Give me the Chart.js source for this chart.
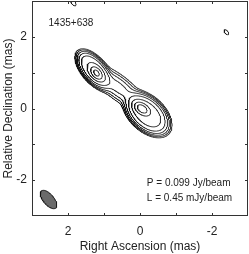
<!DOCTYPE html>
<html>
<head>
<meta charset="utf-8">
<script src="https://cdn.jsdelivr.net/npm/chart.js@4.4.1/dist/chart.umd.min.js"></script>
<style>
  html, body { margin: 0; padding: 0; background: #fff; }
  #wrap { width: 249px; height: 254px; }
</style>
</head>
<body>
<div id="wrap"><canvas id="c" width="249" height="254"></canvas></div>
<script>
const sourceName = '1435+638';
const peakText = 'P = 0.099 Jy/beam';
const lowestText = 'L = 0.45 mJy/beam';
const lowestLevel = 0.45;                       // mJy/beam
const levelMultiples = [1, 2, 4, 8, 16, 32, 64, 128];

// brightness components (mas, mJy/beam, size mas, PA deg, profile shape)
const compName  = ['core', 'core ext', 'NE knot', 'NE ext', 'bridge', 'noise W', 'noise N'];
const compRA    = [-0.06, -0.20, 1.21, 1.27, 0.62, -2.40, 1.86];
const compDec   = [-0.01, -0.15, 0.99, 1.07, 0.60,  2.13, 2.97];
const compPeak  = [78, 20, 60, 14, 5, 0.75, 0.85];
const compMaj   = [0.30, 0.76, 0.28, 0.68, 1.00, 0.20, 0.26];
const compMin   = [0.18, 0.46, 0.17, 0.34, 0.36, 0.10, 0.11];
const compPA    = [55, 47, 40, 40, 52, 40, 35];
const compShape = [1, 2, 1, 2, 1, 1, 1];

// restoring beam
const beamRA = 2.54, beamDec = -2.54, beamMaj = 0.62, beamMin = 0.30, beamPA = 40;

// axes
const axisMin = -3, axisMax = 3;
const xTickValues = [2, 0, -2];
const xTickLabels = ['2', '0', '-2'];
const yTickValues = [2, 0, -2];
const yTickLabels = ['2', '0', '-2'];
const minorTicks = [-2, -1, 0, 1, 2];

// ---------------- brightness model & contours ----------------
const k4ln2 = 4 * Math.LN2;
function brightness(x, y) {
  let s = 0;
  for (let c = 0; c < compPeak.length; c++) {
    const pa = compPA[c] * Math.PI / 180;
    const dx = x - compRA[c], dy = y - compDec[c];
    const along = dx * Math.sin(pa) + dy * Math.cos(pa);
    const perp = dx * Math.cos(pa) - dy * Math.sin(pa);
    const q = along * along / (compMaj[c] * compMaj[c]) + perp * perp / (compMin[c] * compMin[c]);
    s += compPeak[c] * Math.exp(-k4ln2 * Math.pow(q, compShape[c]));
  }
  return s;
}

const step = 0.012;
const gx0 = axisMin - 0.1, gy0 = axisMin - 0.1;
const nx = Math.round((axisMax - axisMin + 0.2) / step) + 1;
const ny = nx;
const grid = new Float64Array(nx * ny);
for (let j = 0; j < ny; j++) for (let i = 0; i < nx; i++) grid[j * nx + i] = brightness(gx0 + i * step, gy0 + j * step);

function contour(level) {
  const segs = [];
  const pos = new Map();
  const at = (i, j) => grid[j * nx + i];
  function edgePoint(key, i0, j0, i1, j1) {
    if (!pos.has(key)) {
      const a = at(i0, j0), b = at(i1, j1);
      const t = (level - a) / (b - a);
      pos.set(key, { x: gx0 + (i0 + t * (i1 - i0)) * step, y: gy0 + (j0 + t * (j1 - j0)) * step });
    }
    return key;
  }
  for (let j = 0; j < ny - 1; j++) {
    for (let i = 0; i < nx - 1; i++) {
      const v0 = at(i, j), v1 = at(i + 1, j), v2 = at(i + 1, j + 1), v3 = at(i, j + 1);
      const idx = (v0 > level ? 1 : 0) | (v1 > level ? 2 : 0) | (v2 > level ? 4 : 0) | (v3 > level ? 8 : 0);
      if (idx === 0 || idx === 15) continue;
      const B = () => edgePoint('h' + i + ',' + j, i, j, i + 1, j);
      const R = () => edgePoint('v' + (i + 1) + ',' + j, i + 1, j, i + 1, j + 1);
      const T = () => edgePoint('h' + i + ',' + (j + 1), i, j + 1, i + 1, j + 1);
      const L = () => edgePoint('v' + i + ',' + j, i, j, i, j + 1);
      const center = (v0 + v1 + v2 + v3) / 4 > level;
      switch (idx) {
        case 1: case 14: segs.push([L(), B()]); break;
        case 2: case 13: segs.push([B(), R()]); break;
        case 3: case 12: segs.push([L(), R()]); break;
        case 4: case 11: segs.push([R(), T()]); break;
        case 6: case 9: segs.push([B(), T()]); break;
        case 7: case 8: segs.push([L(), T()]); break;
        case 5:
          if (center) { segs.push([L(), T()]); segs.push([B(), R()]); }
          else { segs.push([L(), B()]); segs.push([R(), T()]); }
          break;
        case 10:
          if (center) { segs.push([B(), L()]); segs.push([T(), R()]); }
          else { segs.push([B(), R()]); segs.push([T(), L()]); }
          break;
      }
    }
  }
  const byKey = new Map();
  segs.forEach((s, n) => s.forEach(k => { if (!byKey.has(k)) byKey.set(k, []); byKey.get(k).push(n); }));
  const used = new Uint8Array(segs.length);
  const lines = [];
  for (let n = 0; n < segs.length; n++) {
    if (used[n]) continue;
    used[n] = 1;
    const chain = [segs[n][0], segs[n][1]];
    for (let dir = 0; dir < 2; dir++) {
      while (true) {
        const endKey = dir === 0 ? chain[chain.length - 1] : chain[0];
        const cand = (byKey.get(endKey) || []).find(m => !used[m]);
        if (cand === undefined) break;
        used[cand] = 1;
        const s = segs[cand];
        const nextKey = s[0] === endKey ? s[1] : s[0];
        if (dir === 0) chain.push(nextKey); else chain.unshift(nextKey);
      }
    }
    lines.push(chain.map(k => pos.get(k)));
  }
  return lines;
}

const datasets = [];
levelMultiples.forEach(m => {
  contour(lowestLevel * m).forEach(pts => {
    datasets.push({
      data: pts, showLine: true, pointRadius: 0, borderColor: '#111',
      borderWidth: 0.9, tension: 0, fill: false, order: 1
    });
  });
});

// beam ellipse
const beamPts = [];
{
  const pa = beamPA * Math.PI / 180;
  for (let t = 0; t <= 72; t++) {
    const a = t / 72 * 2 * Math.PI;
    const u = beamMaj / 2 * Math.cos(a), v = beamMin / 2 * Math.sin(a);
    beamPts.push({ x: beamRA + u * Math.sin(pa) + v * Math.cos(pa), y: beamDec + u * Math.cos(pa) - v * Math.sin(pa) });
  }
}
datasets.push({
  data: beamPts, showLine: true, pointRadius: 0, borderColor: '#111', borderWidth: 1,
  backgroundColor: '#6a6a6a', fill: 'shape', tension: 0, order: 0
});

// ---------------- chart ----------------
const textColor = '#222';
const fontFamily = '"Liberation Sans", Arial, Helvetica, sans-serif';

const framePlugin = {
  id: 'frame',
  afterDraw(chart) {
    const { ctx, chartArea: a, scales } = chart;
    ctx.save();
    ctx.strokeStyle = '#333';
    ctx.lineWidth = 1;
    ctx.strokeRect(a.left + 0.5, a.top + 0.5, a.right - a.left - 1, a.bottom - a.top - 1);
    ctx.beginPath();
    const tl = 3;
    minorTicks.forEach(v => {
      const px = Math.round(scales.x.getPixelForValue(v)) + 0.5;
      ctx.moveTo(px, a.bottom); ctx.lineTo(px, a.bottom - tl);
      ctx.moveTo(px, a.top); ctx.lineTo(px, a.top + tl);
      const py = Math.round(scales.y.getPixelForValue(v)) + 0.5;
      ctx.moveTo(a.left, py); ctx.lineTo(a.left + tl, py);
      ctx.moveTo(a.right, py); ctx.lineTo(a.right - tl, py);
    });
    ctx.stroke();
    ctx.fillStyle = textColor;
    ctx.font = '10px ' + fontFamily;
    ctx.textBaseline = 'middle';
    ctx.textAlign = 'left';
    ctx.fillText(sourceName, scales.x.getPixelForValue(2.54), scales.y.getPixelForValue(2.37));
    ctx.fillText(peakText, scales.x.getPixelForValue(-0.19), scales.y.getPixelForValue(-2.08));
    ctx.fillText(lowestText, scales.x.getPixelForValue(-0.19), scales.y.getPixelForValue(-2.5));
    ctx.restore();
  }
};

new Chart(document.getElementById('c'), {
  type: 'scatter',
  data: { datasets },
  options: {
    responsive: false,
    animation: false,
    events: [],
    layout: { padding: { top: 1, right: 1, left: 0, bottom: 0 }, autoPadding: false },
    plugins: { legend: { display: false }, tooltip: { enabled: false } },
    scales: {
      x: {
        type: 'linear', min: axisMin, max: axisMax, reverse: true,
        afterFit: s => { s.height = 38; s.paddingLeft = 0; s.paddingRight = 0; },
        grid: { display: false, drawTicks: false },
        border: { display: false },
        ticks: {
          stepSize: 1, maxRotation: 0, autoSkip: false, padding: 8, color: textColor,
          font: { family: fontFamily, size: 12 },
          callback: v => { const k = xTickValues.indexOf(v); return k >= 0 ? xTickLabels[k] : null; }
        },
        title: { display: true, text: 'Right Ascension (mas)', color: textColor,
                 font: { family: fontFamily, size: 12 }, padding: { top: 0, bottom: 0 } }
      },
      y: {
        type: 'linear', min: axisMin, max: axisMax,
        afterFit: s => { s.width = 32; s.paddingTop = 0; s.paddingBottom = 0; },
        grid: { display: false, drawTicks: false },
        border: { display: false },
        ticks: {
          stepSize: 1, autoSkip: false, padding: 5, color: textColor,
          font: { family: fontFamily, size: 12 },
          callback: v => { const k = yTickValues.indexOf(v); return k >= 0 ? yTickLabels[k] : null; }
        },
        title: { display: true, text: 'Relative Declination (mas)', color: textColor,
                 font: { family: fontFamily, size: 12 }, padding: { top: 1, bottom: 0 } }
      }
    }
  },
  plugins: [framePlugin]
});
</script>
</body>
</html>
